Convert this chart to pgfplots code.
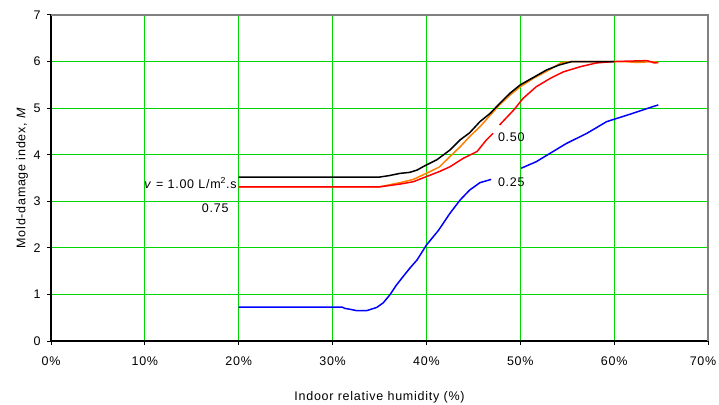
\documentclass[border=0pt]{standalone}
\usepackage{pgfplots}
\pgfplotsset{compat=1.18}
\usepackage{fontspec}
\setmainfont{Liberation Sans}[LetterSpace=6]
\definecolor{gridgreen}{RGB}{0,215,0}
\definecolor{myorange}{RGB}{255,128,0}
\begin{document}
\fontsize{12.5}{15}\selectfont
\begin{tikzpicture}[x=1pt,y=1pt]
\useasboundingbox (0,0) rectangle (719,404);
\begin{axis}[
  at={(51pt,63pt)}, anchor=south west,
  scale only axis, width=657pt, height=326pt,
  xmin=0, xmax=70, ymin=0, ymax=7,
  xtick={0,10,...,70}, ytick={0,1,...,7},
  xticklabels={0\%,10\%,20\%,30\%,40\%,50\%,60\%,70\%\hspace*{10pt}},
  /pgf/number format/assume math mode=true,
  font=\fontsize{12.5}{15}\selectfont,
  ticklabel style={font=\fontsize{12.5}{15}\selectfont},
  x tick label style={yshift=-7pt},
  y tick label style={xshift=-2pt},
  axis x line*=bottom, axis y line*=left,
  axis line style={black, line width=1.3pt, -},
  tick style={black, line width=1pt},
  tick align=outside, major tick length=4pt,
  grid=major, major grid style={gridgreen, line width=0.8pt},
  xlabel={Indoor relative humidity (\%)},
  ylabel={Mold-damage index, \textit{M}},
  xlabel style={at={(axis description cs:0.5,0)}, anchor=center, yshift=-56pt},
  ylabel style={at={(axis description cs:-0.044,0.5)}, anchor=center},
  unbounded coords=jump,
  clip=false,
]
\draw[gray, line width=1.3pt] (rel axis cs:0,1) -- (rel axis cs:1,1) -- (rel axis cs:1,0);
% orange
\addplot[myorange, line width=1.5pt] coordinates {
(20,3.31) (35,3.31) (37.2,3.40) (38.6,3.47) (40.0,3.60) (41.4,3.74) (42.5,3.96) (43.6,4.17) (44.6,4.39) (45.7,4.60) (46.8,4.85) (47.8,5.07) (48.9,5.28) (50.0,5.46) (51.4,5.64) (52.8,5.79) (54.4,5.98) (55.5,6.00) (61.0,6.00) (62.5,5.98) (64.0,6.00) (64.7,5.98)
};
% red
\addplot[red, line width=1.5pt] coordinates {
(20,3.31) (35,3.31) (37.2,3.37) (38.6,3.42) (40.0,3.53) (41.4,3.64) (42.5,3.74) (43.9,3.92) (45.4,4.07) (46.4,4.32) (47.1,4.46) (nan,nan)
(47.8,4.64) (49.3,4.96) (50.3,5.21) (51.7,5.46) (53.2,5.64) (54.6,5.78) (56.4,5.89) (58.1,5.97) (59.9,6.00) (63.5,6.02) (64.3,5.97) (64.7,5.98)
};
% black
\addplot[black, line width=1.5pt] coordinates {
(20,3.52) (35,3.52) (36,3.55) (37.2,3.60) (38.2,3.62) (39.0,3.67) (39.8,3.76) (41.1,3.89) (42.5,4.10) (43.6,4.32) (44.6,4.47) (45.7,4.71) (46.8,4.89) (47.8,5.10) (48.9,5.32) (50.0,5.50) (51.4,5.66) (52.8,5.82) (54.2,5.93) (55.5,6.00) (60.0,6.00)
};
% blue
\addplot[blue, line width=1.5pt] coordinates {
(20,0.73) (31,0.73) (31.3,0.70) (31.9,0.68) (32.6,0.65) (33.6,0.65) (34.7,0.72) (35.4,0.82) (36.1,0.99) (36.8,1.20) (37.5,1.38) (38.3,1.58) (39.0,1.74) (40.0,2.06) (41.3,2.38) (42.5,2.74) (43.6,3.03) (44.6,3.24) (45.7,3.40) (46.9,3.47) (nan,nan)
(50.1,3.71) (51.7,3.85) (53.5,4.07) (54.9,4.24) (57.1,4.46) (59.2,4.71) (61.7,4.87) (64.7,5.07)
};
\node[anchor=east, inner sep=1pt] at (axis cs:19.9,3.39) {\textit{v} = 1.00 L/m\textsuperscript{2}.s};
\node[inner sep=1pt] at (axis cs:17.5,2.86) {0.75};
\node[anchor=west, inner sep=1pt] at (axis cs:47.5,4.38) {0.50};
\node[anchor=west, inner sep=1pt] at (axis cs:47.5,3.41) {0.25};
\end{axis}
\end{tikzpicture}
\end{document}
